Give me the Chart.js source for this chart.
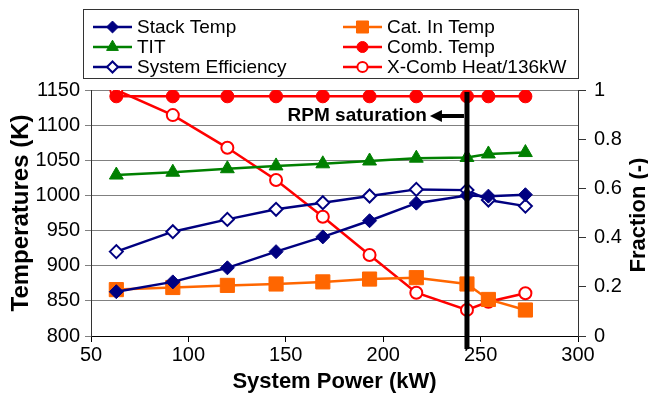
<!DOCTYPE html>
<html>
<head>
<meta charset="utf-8">
<script src="https://cdn.jsdelivr.net/npm/chart.js@4"></script>
<style>
  html, body { margin: 0; padding: 0; background: #fff; }
</style>
</head>
<body>
<canvas id="graph" width="648" height="395"></canvas>
<script>
// system power (kW) at each operating point
const power = [63, 92, 120, 145, 169, 193, 217, 243, 254, 273];

// temperatures (K), left axis
const stackTemp = [863, 877, 897, 920, 941, 964, 989, 1000, 999, 1001];
const catInTemp = [866, 869, 872, 874, 877, 881, 883, 874, 852, 837];
const titTemp = [1029, 1033, 1038, 1042, 1045, 1049, 1053, 1054, 1059, 1061];
const combTemp = [1141, 1141, 1141, 1141, 1141, 1141, 1141, 1141, 1141, 1141];

// fractions (-), right axis
const sysEfficiency = [0.343, 0.424, 0.474, 0.515, 0.542, 0.569, 0.596, 0.593, 0.553, 0.528];
const xCombHeat = [1.0, 0.898, 0.765, 0.634, 0.485, 0.329, 0.176, 0.106, 0.139, 0.174];

const satPower = 243;
const satLabel = 'RPM saturation';

const FONT = "'Liberation Sans', Arial, sans-serif";
Chart.defaults.font.family = FONT;
Chart.defaults.color = '#000';

function pts(values) {
    return power.map((p, i) => ({ x: p, y: values[i] }));
}

function series(label, values, axis, color, style, radius, fill, bw) {
    return {
        label: label,
        data: pts(values),
        yAxisID: axis,
        borderColor: color,
        backgroundColor: color,
        borderWidth: 2.5,
        pointStyle: style,
        pointRadius: radius,
        pointHoverRadius: radius,
        pointBackgroundColor: fill,
        pointBorderColor: color,
        pointBorderWidth: bw,
        tension: 0
    };
}

// order = legend order (two columns, row by row)
const datasets = [
    series('Stack Temp', stackTemp, 'y', '#000080', 'rectRot', 7, '#000080', 1),
    series('Cat. In Temp', catInTemp, 'y', '#ff6600', 'rect', 10, '#ff6600', 1),
    series('TIT', titTemp, 'y', '#008000', 'triangle', 8, '#008000', 1),
    series('Comb. Temp', combTemp, 'y', '#ff0000', 'circle', 6.5, '#ff0000', 1),
    series('System Efficiency', sysEfficiency, 'y1', '#000080', 'rectRot', 6.5, '#ffffff', 2),
    series('X-Comb Heat/136kW', xCombHeat, 'y1', '#ff0000', 'circle', 6, '#ffffff', 2)
];

const extras = {
    id: 'extras',
    afterDatasetsDraw(chart) {
        const { ctx, chartArea, scales } = chart;
        const x = scales.x.getPixelForValue(satPower);
        ctx.save();
        ctx.fillStyle = '#000';
        ctx.fillRect(x - 2.5, chartArea.top + 2, 5, chartArea.bottom - chartArea.top + 11);

        // arrow pointing left, then label
        const ay = chartArea.top + 26;
        ctx.fillRect(x - 26, ay - 2, 23, 4);
        ctx.beginPath();
        ctx.moveTo(x - 37, ay);
        ctx.lineTo(x - 25, ay - 6);
        ctx.lineTo(x - 25, ay + 6);
        ctx.closePath();
        ctx.fill();
        ctx.font = 'bold 19px ' + FONT;
        ctx.textAlign = 'right';
        ctx.textBaseline = 'middle';
        ctx.fillText(satLabel, x - 40, ay);
        ctx.restore();
    },
    afterDraw(chart) {
        const { ctx, chartArea } = chart;
        ctx.save();

        // right axis title, reading upwards
        ctx.translate(645, (chartArea.top + chartArea.bottom) / 2 + 2);
        ctx.rotate(-Math.PI / 2);
        ctx.font = 'bold 22px ' + FONT;
        ctx.textAlign = 'center';
        ctx.textBaseline = 'alphabetic';
        ctx.fillStyle = '#000';
        ctx.fillText('Fraction (-)', 0, 0);
        ctx.restore();

        // boxed two-column legend
        ctx.save();
        ctx.strokeStyle = '#333';
        ctx.lineWidth = 1;
        ctx.strokeRect(83.5, 9.5, 495, 69);
        const colX = [93, 343];
        const rowY = [27, 47, 67];
        chart.data.datasets.forEach((ds, i) => {
            const x0 = colX[i % 2];
            const y0 = rowY[Math.floor(i / 2)];
            ctx.strokeStyle = ds.borderColor;
            ctx.lineWidth = ds.borderWidth;
            ctx.beginPath();
            ctx.moveTo(x0, y0);
            ctx.lineTo(x0 + 39, y0);
            ctx.stroke();
            ctx.fillStyle = ds.pointBackgroundColor;
            ctx.strokeStyle = ds.pointBorderColor;
            ctx.lineWidth = ds.pointBorderWidth;
            Chart.helpers.drawPoint(ctx, {
                pointStyle: ds.pointStyle,
                radius: ds.pointRadius * 0.85,
                borderWidth: ds.pointBorderWidth,
                rotation: 0
            }, x0 + 19.5, y0);
            ctx.fillStyle = '#000';
            ctx.font = '19px ' + FONT;
            ctx.textAlign = 'left';
            ctx.textBaseline = 'middle';
            ctx.fillText(ds.label, x0 + 44, y0 + 1);
        });
        ctx.restore();
    }
};

const ctx = document.getElementById('graph').getContext('2d');
const myChart = new Chart(ctx, {
    type: 'line',
    data: { datasets: datasets },
    options: {
        responsive: false,
        animation: false,
        layout: { padding: { top: 90, left: 0, right: 0, bottom: 0 } },
        plugins: {
            legend: { display: false },
            tooltip: { enabled: false }
        },
        scales: {
            x: {
                type: 'linear',
                min: 50,
                max: 300,
                ticks: { stepSize: 50, font: { size: 20 }, padding: 1, maxRotation: 0, callback: v => String(v) },
                grid: { drawOnChartArea: false, tickLength: 6, color: '#000' },
                border: { color: '#000' },
                title: {
                    display: true,
                    text: 'System Power (kW)',
                    font: { size: 22, weight: 'bold' },
                    padding: { top: 0, bottom: 0 }
                },
                afterFit: s => { s.height = 59; }
            },
            y: {
                position: 'left',
                min: 800,
                max: 1150,
                ticks: { stepSize: 50, font: { size: 20 }, padding: 5, callback: v => String(v) },
                grid: { color: '#808080', tickLength: 6 },
                border: { color: '#333' },
                title: {
                    display: true,
                    text: 'Temperatures (K)',
                    font: { size: 24, weight: 'bold' },
                    padding: { top: 7, bottom: 0 }
                },
                afterFit: s => { s.width = 91; }
            },
            y1: {
                position: 'right',
                min: 0,
                max: 1,
                ticks: {
                    stepSize: 0.2,
                    font: { size: 20 },
                    padding: 8,
                    callback: v => String(+v.toFixed(1))
                },
                grid: { drawOnChartArea: false, tickLength: 8, color: '#333' },
                border: { color: '#333' },
                afterFit: s => { s.width = 70; }
            }
        }
    },
    plugins: [extras]
});
</script>
</body>
</html>
